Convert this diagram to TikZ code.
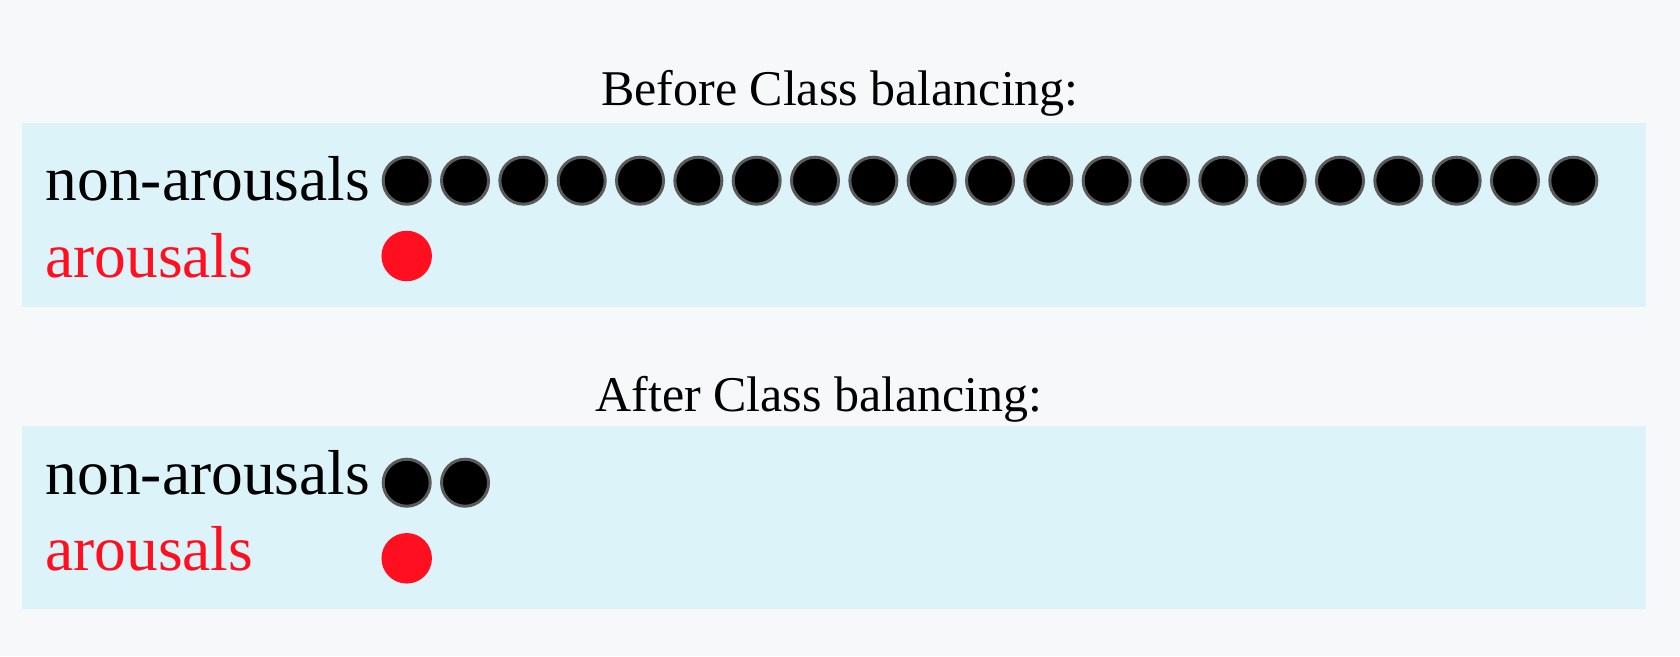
\documentclass[tikz,border=0pt]{standalone}
\usepackage{fontspec}
\setmainfont{Liberation Serif}
\definecolor{pagebg}{HTML}{F6F8FA}
\definecolor{panelbg}{HTML}{DDF3FA}
\definecolor{arored}{HTML}{FF0F1F}
\definecolor{ringgray}{HTML}{5A5A5A}
\begin{document}
\begin{tikzpicture}[x=1pt,y=-1pt,
  panel/.style={fill=panelbg,draw=none},
  titletext/.style={inner sep=0pt,anchor=base,font=\fontsize{50}{50}\selectfont},
  labeltext/.style={inner sep=0pt,anchor=base west,font=\fontsize{63.5}{63.5}\selectfont},
  nonaro/.style={circle,fill=black,draw=ringgray,line width=3pt,minimum size=47pt,inner sep=0pt},
  aro/.style={circle,fill=arored,draw=none,minimum size=50.5pt,inner sep=0pt}]
\fill[pagebg] (0,0) rectangle (1680,656);
\useasboundingbox (0,0) rectangle (1680,656);
% Before
\node[titletext] (t1) at (840,105.7) {Before Class balancing:};
\fill[panel] (22,123) rectangle (1645.5,306.7);
\node[labeltext] (n1) at (45.5,200.7) {non-arousals};
\node[labeltext,text=arored] (a1) at (45,277.7) {arousals};
\foreach \i in {0,...,20}{
  \node[nonaro] (b\i) at (406.7+58.33*\i,180.7) {};
}
\node[aro] (r1) at (406.7,256) {};
% After
\node[titletext] (t2) at (819,411.7) {After Class balancing:};
\fill[panel] (22,425.5) rectangle (1645.5,609.3);
\node[labeltext] (n2) at (45.5,494.3) {non-arousals};
\node[labeltext,text=arored] (a2) at (45,570.7) {arousals};
\foreach \i in {0,1}{
  \node[nonaro] (c\i) at (406.7+58.33*\i,482.7) {};
}
\node[aro] (r2) at (406.7,558.3) {};
\end{tikzpicture}
\end{document}
